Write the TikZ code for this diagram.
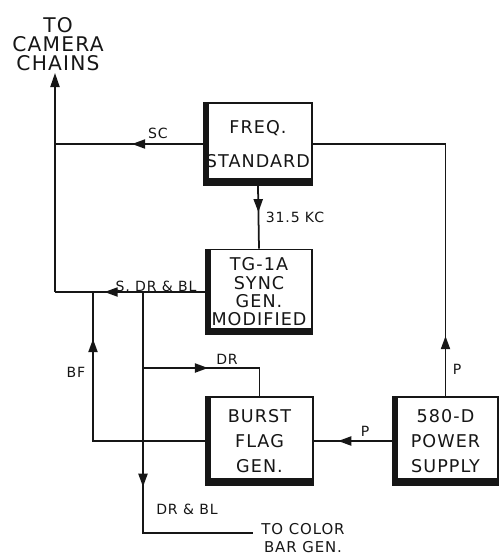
\documentclass[tikz,border=0pt]{standalone}
\usepackage{fontspec}
\setmainfont{DejaVu Sans}[LetterSpace=6]
\usetikzlibrary{calc,arrows.meta,decorations.markings}
\definecolor{inkBlack}{RGB}{22,22,22}
\newcommand{\BoxFont}{\fontsize{10}{14}\selectfont}
\newcommand{\TagFont}{\fontsize{8}{9}\selectfont}
\tikzset{
  unitbox/.style={draw=inkBlack,line width=1.1pt,fill=white,minimum width=2.14cm,minimum height=1.76cm,
    inner sep=0pt,align=center,font=\BoxFont,text=inkBlack,
    path picture={\fill[inkBlack] (path picture bounding box.south west) rectangle ([xshift=2.8pt]path picture bounding box.north west);
      \fill[inkBlack] (path picture bounding box.south west) rectangle ([yshift=3.8pt]path picture bounding box.south east);}},
  wire/.style={draw=inkBlack,line width=1pt},
  tag/.style={font=\TagFont,text=inkBlack,inner sep=1pt},
  flow/.style={postaction={decorate},decoration={markings,mark=at position #1 with {\arrow{Triangle[width=5.2pt,length=7.5pt]}}}}
}

\begin{document}
\begin{tikzpicture}[x=0.02cm,y=-0.02cm]
\useasboundingbox (0,0) rectangle (504,556);
\node[unitbox,minimum width=2.16cm,minimum height=1.64cm] (freq) at (258,144) {FREQ.\\[5pt]STANDARD};
\node[unitbox,minimum width=2.12cm,minimum height=1.7cm,font=\fontsize{10}{10.4}\selectfont] (sync) at (259,292) {TG-1A\\SYNC\\GEN.\\MODIFIED};
\node[unitbox] (burst) at (259.5,441) {BURST\\FLAG\\GEN.};
\node[unitbox,minimum width=2.1cm] (power) at (445.5,441) {580-D\\POWER\\SUPPLY};

\coordinate (camtip) at (55,73);
\coordinate (scjoin) at (55,144);
\coordinate (sjoin) at (55,292);
\coordinate (bfturn) at (93,441);
\coordinate (drsplit) at (143,292);
\coordinate (drturn) at (143,368);
\coordinate (cbturn) at (143,533);
\coordinate (cbend) at (253,533);

\draw[wire,flow=0.48] (freq.west) -- (scjoin);
\draw[wire,-{Triangle[width=5.2pt,length=8pt]}] (sjoin) -- (camtip);
\draw[wire,flow=0.42] (freq.south) -- (sync.north);
\draw[wire,flow=0.67] (sync.west) -- (sjoin);
\draw[wire,flow=0.82] (burst.west) -- (bfturn) -- (bfturn |- sync.west);
\draw[wire,flow=0.555] (drsplit) -- (cbturn) -- (cbend);
\draw[wire,flow=0.45] (drturn) -- (drturn -| burst.north) -- (burst.north);
\draw[wire,flow=0.69] (power.west) -- (burst.east);
\draw[wire,flow=0.156] (power.north) -- (power.north |- freq.east) -- (freq.east);

\node[align=center,font=\fontsize{11.5}{10.8}\selectfont,text=inkBlack] (camtag) at (58,44) {TO\\CAMERA\\CHAINS};
\node[tag] (sctag) at (158,133) {SC};
\node[tag] (kctag) at (295,217) {31.5 KC};
\node[tag] (sdrtag) at (156,287) {S, DR \& BL};
\node[tag] (drtag) at (227,359) {DR};
\node[tag] (bftag) at (76,372) {BF};
\node[tag] (ptag) at (365,431) {P};
\node[tag] (pvtag) at (457,369) {P};
\node[tag] (drbltag) at (187,509) {DR \& BL};
\node[tag,font=\fontsize{8.5}{10.5}\selectfont,align=center] (colortag) at (303,538) {TO COLOR\\BAR GEN.};
\end{tikzpicture}
\end{document}
